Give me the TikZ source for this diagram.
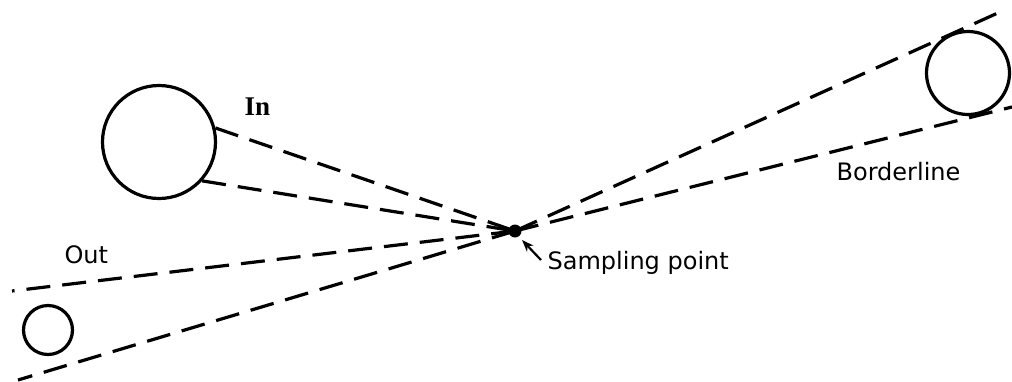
\documentclass[tikz,border=0pt]{standalone}
\usepackage{fontspec}
\setmainfont{Liberation Serif}
\newfontfamily\labelfont{DejaVu Sans}
\usetikzlibrary{arrows.meta}
\begin{document}
\begin{tikzpicture}[x=1pt,y=-1pt,line width=3.2pt,
  dashline/.style={dash pattern=on 24pt off 12pt},
  ring/.style={circle,draw,inner sep=0pt,line width=3.2pt},
  lbl/.style={font=\labelfont\fontsize{24}{28}\selectfont,inner sep=0pt,anchor=base west}]
\useasboundingbox (0,0) rectangle (1012,381);
\node[ring,minimum size=113pt] (big) at (159,142) {};
\node[ring,minimum size=83pt] (right) at (968,73) {};
\node[ring,minimum size=49pt] (small) at (48,330) {};
\node[circle,fill,inner sep=0pt,minimum size=13pt] (sp) at (515,231) {};
\coordinate (ul) at (12,291);
\coordinate (ll) at (18,380);
\coordinate (ur) at (1000,12);
\coordinate (lr) at (1012,107);
\draw[dashline] (big.14) -- (sp.center);
\draw[dashline] (big.-42) -- (sp.center);
\draw[dashline] (sp.center) -- (ul);
\draw[dashline] (sp.center) -- (ll);
\draw[dashline] (sp.center) -- (ur);
\draw[dashline] (sp.center) -- (lr);
\node[font=\bfseries\fontsize{27}{32}\selectfont,inner sep=0pt,anchor=base west] (in) at (243,115) {In};
\node[lbl] (out) at (63,263) {Out};
\node[lbl] (bl) at (835,180) {Borderline};
\node[lbl] (spl) at (546,269) {Sampling point};
\coordinate (tail) at (541,260);
\coordinate (tip) at (522,240);
\draw[-{Stealth[length=12pt,width=9pt]},line width=2.2pt] (tail) -- (tip);
\end{tikzpicture}
\end{document}
